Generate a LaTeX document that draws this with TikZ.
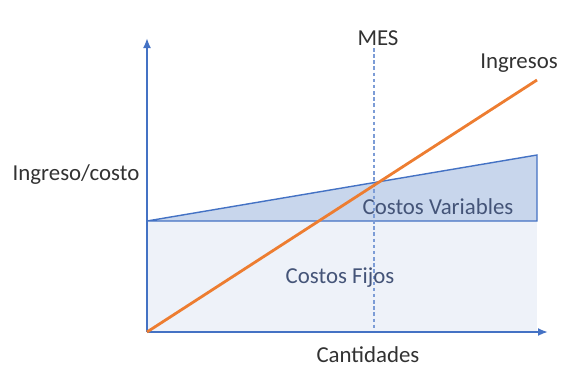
\documentclass[tikz,border=0pt]{standalone}
\usepackage{fontspec}
\setmainfont{Carlito}
\usepackage{tikz}
\usetikzlibrary{calc,positioning,arrows.meta}
\definecolor{axisblue}{RGB}{68,114,196}
\definecolor{ingorange}{RGB}{237,125,49}
\definecolor{varfill}{RGB}{200,214,236}
\definecolor{fixfill}{RGB}{238,242,249}
\definecolor{labgray}{RGB}{50,50,50}
\definecolor{regtext}{RGB}{68,84,120}
\tikzset{
  pe schemes/.style = {
    x=0.02cm, y=-0.02cm,
    % Ejes
    axis line/.style   = {axisblue, line width=1.1pt, -{Latex[length=2mm,width=1.6mm]}},
    % Zonas
    var zone/.style    = {fill=varfill, draw=axisblue, line width=0.8pt},
    fix zone/.style    = {fill=fixfill},
    % Lineas
    ing line/.style    = {ingorange, line width=1.6pt},
    mes line/.style    = {axisblue!70, dash pattern=on 2pt off 1.5pt, line width=0.6pt},
    % Textos
    lab/.style         = {text=labgray, font=\fontsize{13}{15}\selectfont, inner sep=0pt},
    zone lab/.style    = {text=regtext, font=\fontsize{13}{15}\selectfont, inner sep=0pt}
  }
}
\begin{document}
\begin{tikzpicture}[pe schemes]
\useasboundingbox (0,0) rectangle (561,366);
%---------------------------------------------
\coordinate (O)     at (147,332);
\coordinate (xend)  at (548,332);
\coordinate (yend)  at (147,38);
\coordinate (fixr)  at (537,221);
\coordinate (fixl)  at (147,221);
\coordinate (varr)  at (537,155);
\coordinate (ingr)  at (537,80);
\coordinate (mest)  at (374,48);
\coordinate (mesb)  at (374,332);

\fill[fix zone] (O) rectangle (fixr);
\draw[var zone] (fixl) -- (varr) -- (fixr) -- cycle;
\draw[mes line] (mest) -- (mesb);
\draw[axis line] (O) -- (xend);
\draw[axis line] (O) -- (yend);
\draw[ing line] (O) -- (ingr);

\node[lab]      (mes)  at (378,38)  {MES};
\node[lab]      (ing)  at (519,63)  {Ingresos};
\node[lab]      (yl)   at (76,175)  {Ingreso/costo};
\node[lab]      (xl)   at (368,355) {Cantidades};
\node[zone lab] (cv)   at (438,207) {Costos Variables};
\node[zone lab] (cf)   at (340,278) {Costos Fijos};
\end{tikzpicture}
\end{document}
